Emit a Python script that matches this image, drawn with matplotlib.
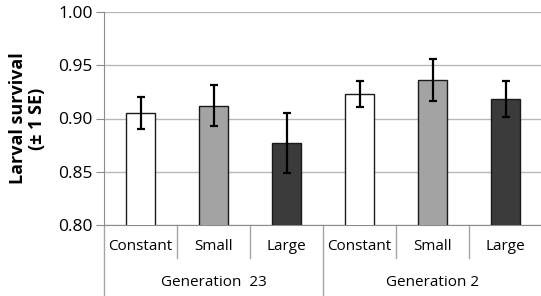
import numpy as np
import matplotlib.pyplot as plt
from matplotlib.transforms import blended_transform_factory

# data
treatments = ['Constant', 'Small', 'Large', 'Constant', 'Small', 'Large']
groups = ['Generation  23', 'Generation 2']
survival = [0.905, 0.912, 0.877, 0.923, 0.936, 0.918]
se = [0.015, 0.019, 0.028, 0.012, 0.020, 0.017]
bar_colors = ['#ffffff', '#a3a3a3', '#3b3b3b', '#ffffff', '#a3a3a3', '#3b3b3b']

plt.rcParams['font.family'] = ['Open Sans', 'DejaVu Sans']

fig = plt.figure(figsize=(5.41, 2.96), dpi=100)
ax = fig.add_axes([104 / 541, 1 - 225 / 296, 438 / 541, 213 / 296])

x = np.arange(len(survival))
ax.bar(x, survival, width=0.41, bottom=0, color=bar_colors,
       edgecolor='#1a1a1a', linewidth=1.0, zorder=3)
ax.errorbar(x, survival, yerr=se, fmt='none', ecolor='black',
            elinewidth=1.6, capsize=3, capthick=1.6, zorder=4)

ax.set_xlim(-0.5, 5.5)
ax.set_ylim(0.80, 1.00)
ax.set_yticks([0.80, 0.85, 0.90, 0.95, 1.00])
ax.set_yticklabels(['0.80', '0.85', '0.90', '0.95', '1.00'])
ax.yaxis.grid(True, color='#b8b8b8', linewidth=1.0, zorder=0)
ax.set_axisbelow(True)
ax.set_xticks([])
ax.tick_params(axis='y', length=6, color='#8c8c8c', labelsize=12.5, pad=2)

for side in ['top', 'right']:
    ax.spines[side].set_visible(False)
ax.spines['left'].set_color('#8c8c8c')
ax.spines['bottom'].set_color('#8c8c8c')

ax.set_ylabel('Larval survival\n(± 1 SE)', fontsize=13, fontweight='bold',
              labelpad=9, linespacing=1.05)

# two-level category axis
trans = blended_transform_factory(ax.transData, ax.transAxes)
h = ax.get_position().height * 296
for b in [0.5, 1.5, 3.5, 4.5]:
    ax.plot([b, b], [0, -33 / h], transform=trans, color='#a6a6a6',
            linewidth=1.0, clip_on=False)
for b in [-0.5, 2.5, 5.5]:
    ax.plot([b, b], [0, -75 / h], transform=trans, color='#a6a6a6',
            linewidth=1.0, clip_on=False)

for xi, lab in zip(x, treatments):
    ax.text(xi, -22 / h, lab, transform=trans, ha='center', va='center',
            fontsize=11)
for gi, g in enumerate(groups):
    ax.text(1 + 3 * gi, -57 / h, g, transform=trans, ha='center',
            va='center', fontsize=11)

fig.savefig('out.png', dpi=100)
